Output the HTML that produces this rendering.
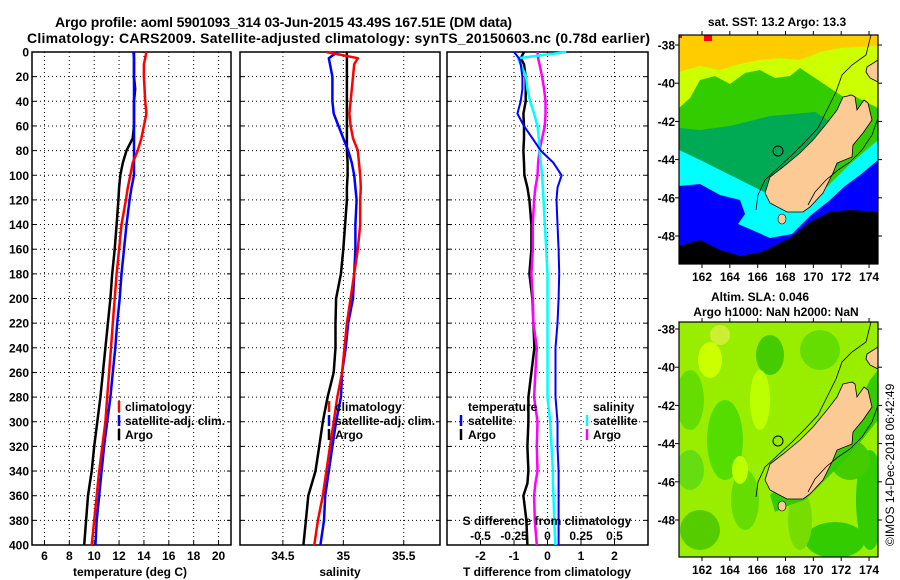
<!DOCTYPE html>
<html><head><meta charset="utf-8">
<style>
html,body{margin:0;padding:0;background:#fff;}
svg{display:block;font-family:"Liberation Sans",sans-serif;}
.t{font-weight:bold;font-size:12px;fill:#000;}
</style></head>
<body>
<svg id="fig" width="900" height="580" viewBox="0 0 900 580" xmlns="http://www.w3.org/2000/svg">
<rect width="900" height="580" fill="#fff"/>
<text x="55" y="27" font-size="14" font-weight="bold" textLength="457">Argo profile: aoml 5901093_314 03-Jun-2015 43.49S 167.51E (DM data)</text>
<text x="27" y="43" font-size="14" font-weight="bold" textLength="623">Climatology: CARS2009. Satellite-adjusted climatology: synTS_20150603.nc (0.78d earlier)</text>
<g id="charts"></g>
<g id="maps"></g>
</svg>
<script>
// ---- data ----
const depths = [0,5,10,20,30,40,50,60,70,80,90,100,110,120,140,160,180,200,220,240,260,280,300,320,340,350,360,380,400];
const tempClim = [14.2,14.1,14.0,14.0,14.05,14.1,14.2,14.0,13.8,13.5,13.1,12.9,12.7,12.55,12.2,12.0,11.8,11.65,11.5,11.35,11.2,11.05,10.9,10.65,10.4,10.3,10.2,10.0,9.8];
const tempSat = [13.15,13.2,13.2,13.2,13.2,13.2,13.2,13.2,13.2,13.2,13.2,13.2,13.0,12.85,12.6,12.4,12.2,12.05,11.85,11.7,11.5,11.3,11.05,10.8,10.6,10.5,10.4,10.2,10.1];
const tempArgo = [13.2,13.2,13.2,13.2,13.3,13.2,13.2,13.2,13.1,12.6,12.3,12.1,12.0,11.95,11.8,11.65,11.45,11.3,11.1,10.9,10.7,10.5,10.25,10.0,9.8,9.65,9.5,9.35,9.2];
const salClim = [34.86,35.12,35.09,35.08,35.07,35.06,35.05,35.06,35.08,35.12,35.13,35.14,35.145,35.14,35.14,35.12,35.09,35.06,35.03,35.01,34.99,34.95,34.92,34.89,34.86,34.845,34.83,34.79,34.76];
const salSat = [34.95,34.88,34.89,34.91,34.91,34.91,34.92,34.96,35.0,35.04,35.07,35.09,35.1,35.11,35.1,35.1,35.09,35.08,35.04,35.02,34.99,34.98,34.94,34.91,34.88,34.865,34.85,34.84,34.81];
const salArgo = [35.03,35.03,35.03,35.03,35.03,35.03,35.03,35.03,35.03,35.03,35.035,35.035,35.03,35.03,35.015,35.0,34.98,34.94,34.935,34.935,34.92,34.87,34.83,34.8,34.77,34.74,34.71,34.69,34.67];
const tDiffSat = [-1.0,-0.85,-0.8,-0.75,-0.75,-0.8,-0.9,-0.7,-0.45,-0.2,0.18,0.42,0.3,0.27,0.3,0.33,0.35,0.33,0.3,0.24,0.24,0.24,0.3,0.3,0.33,0.33,0.33,0.33,0.33];
const tDiffArgo = [-0.7,-0.8,-0.7,-0.65,-0.65,-0.65,-0.72,-0.7,-0.7,-0.72,-0.7,-0.69,-0.6,-0.54,-0.48,-0.48,-0.54,-0.45,-0.42,-0.39,-0.48,-0.57,-0.57,-0.6,-0.57,-0.6,-0.72,-0.63,-0.6];
const sDiffSat = [0.14,-0.22,-0.2,-0.16,-0.15,-0.13,-0.1,-0.075,-0.065,-0.06,-0.05,-0.04,-0.035,-0.03,-0.02,-0.01,0,0,0,0,0,0,0.02,0.03,0.04,0.04,0.045,0.05,0.06];
const sDiffArgo = [-0.075,-0.07,-0.06,-0.04,-0.025,-0.015,-0.015,-0.02,-0.04,-0.06,-0.07,-0.075,-0.09,-0.1,-0.11,-0.11,-0.12,-0.11,-0.105,-0.08,-0.09,-0.1,-0.075,-0.08,-0.075,-0.09,-0.1,-0.095,-0.08];
const depthTicks = [0,20,40,60,80,100,120,140,160,180,200,220,240,260,280,300,320,340,360,380,400];
const tempTicks = [6,8,10,12,14,16,18,20];
const salTicks = [34.5,35,35.5];
const tDiffTicks = [-2,-1,0,1,2];
const sDiffTicks = [-0.5,-0.25,0,0.25,0.5];
const sDiffTickLabels = ["-0.5","-0.25","0","0.25","0.5"];
const lonTicks = [162,164,166,168,170,172,174];
const latTicks = [-38,-40,-42,-44,-46,-48];

const NS = "http://www.w3.org/2000/svg";
function mk(tag, attrs, parent){const e=document.createElementNS(NS,tag);for(const k in attrs)e.setAttribute(k,attrs[k]);parent.appendChild(e);return e;}
function txt(x,y,s,anchor,parent,cls){const e=mk("text",{x:x,y:y,"text-anchor":anchor||"start",class:cls||"t"},parent);e.textContent=s;return e;}

const charts = document.getElementById("charts");
const TOP=52, BOT=545;
function yD(d){return TOP + d*(BOT-TOP)/400;}
function lin(d0,d1,r0,r1){return v=>r0+(v-d0)*(r1-r0)/(d1-d0);}
const xT = lin(5,21,32,231);
const xS = lin(34.145,35.8,240,440);
const xTd = lin(-3,3,447,648);
const xSd = lin(-0.75,0.75,447,648);

function panel(name,x0,x1,xticks,xscale,ylabels){
  const g = mk("g",{},charts);
  
  
  depthTicks.forEach(d=>{
    if(d>0&&d<400){const l=mk("line",{x1:x0,x2:x1,y1:yD(d),y2:yD(d),stroke:"#000","stroke-width":1,"stroke-dasharray":"1,3"},g);
    
    }
    mk("line",{x1:x0,x2:x0+4,y1:yD(d),y2:yD(d),stroke:"#000"},g);
    mk("line",{x1:x1-4,x2:x1,y1:yD(d),y2:yD(d),stroke:"#000"},g);
    if(ylabels){const t=txt(29,yD(d)+4.5,String(d),"end",g);
    
    }
  });
  xticks.forEach(v=>{
    const x=xscale(v);
    const l=mk("line",{x1:x,x2:x,y1:TOP,y2:BOT,stroke:"#000","stroke-width":1,"stroke-dasharray":"1,3"},g);
    
    
    mk("line",{x1:x,x2:x,y1:BOT-4,y2:BOT,stroke:"#000"},g);
  });
  const r=mk("rect",{x:x0,y:TOP,width:x1-x0,height:BOT-TOP,fill:"none",stroke:"#000","stroke-width":1.5},g);
  
  
  return g;
}
function series(g,vals,xscale,color,w,name){
  const pts=vals.map((v,i)=>xscale(v).toFixed(1)+","+yD(depths[i]).toFixed(1)).join(" ");
  const p=mk("polyline",{points:pts,fill:"none",stroke:color,"stroke-width":w,"stroke-linejoin":"round"},g);
  
  
}
function legendItem(g,xm,xt,y,color,label){
  if(color){const m=mk("line",{x1:xm,x2:xm,y1:y-10,y2:y+1,stroke:color,"stroke-width":2.5},g);
  
  }
  const t=txt(xt,y,label,"start",g);
  
  
}

// Panel 1 temperature
const g1 = panel("temperature-panel",32,231,tempTicks,xT,true);
series(g1,tempArgo,xT,"#000",2.5,"temp-argo-line");
series(g1,tempSat,xT,"#0000ff",2.5,"temp-satellite-line");
series(g1,tempClim,xT,"#ff0000",2.5,"temp-climatology-line");
tempTicks.forEach(v=>{const t=txt(xT(v),560,String(v),"middle",g1);

});
const xl1=txt(130,576,"temperature (deg C)","middle",g1);


legendItem(g1,119,125,411,"#ff0000","climatology");
legendItem(g1,119,125,425,"#0000ff","satellite-adj. clim.");
legendItem(g1,119,125,439,"#000","Argo");

// Panel 2 salinity
const g2 = panel("salinity-panel",240,440,salTicks,xS,false);
series(g2,salArgo,xS,"#000",2.5,"sal-argo-line");
series(g2,salSat,xS,"#0000ff",2.5,"sal-satellite-line");
series(g2,salClim,xS,"#ff0000",2.5,"sal-climatology-line");
salTicks.forEach(v=>{const t=txt(xS(v),560,String(v),"middle",g2);

});
const xl2=txt(340,576,"salinity","middle",g2);


legendItem(g2,329,335,411,"#ff0000","climatology");
legendItem(g2,329,335,425,"#0000ff","satellite-adj. clim.");
legendItem(g2,329,335,439,"#000","Argo");

// Panel 3 differences
const g3 = panel("difference-panel",447,648,tDiffTicks,xTd,false);
series(g3,tDiffArgo,xTd,"#000",2.5,"tdiff-argo-line");
series(g3,sDiffArgo,xSd,"#ff00ff",2.5,"sdiff-argo-line");
series(g3,sDiffSat,xSd,"#00ffff",2.5,"sdiff-satellite-line");
series(g3,tDiffSat,xTd,"#0000ff",2,"tdiff-satellite-line");
tDiffTicks.forEach(v=>{const t=txt(xTd(v),560,String(v),"middle",g3);

});
sDiffTicks.forEach((v,i)=>{const t=txt(xSd(v),540,sDiffTickLabels[i],"middle",g3);

});
const sdt=txt(547,525,"S difference from climatology","middle",g3);


const xl3=txt(547,576,"T difference from climatology","middle",g3);


legendItem(g3,0,468,411,null,"temperature");
legendItem(g3,461,468,425,"#0000ff","satellite");
legendItem(g3,461,468,439,"#000","Argo");
legendItem(g3,0,593,411,null,"salinity");
legendItem(g3,587,593,425,"#00ffff","satellite");
legendItem(g3,587,593,439,"#ff00ff","Argo");

// ---- maps ----
const maps = document.getElementById("maps");
const MX0=679, MX1=878;
function lonX(l){return 702+(l-162)*13.92;}
const land = [[852,95],[855,97],[857,110],[864,100],[868,103],[872,120],[863,133],[853,145],[852,157],[837,163],[833,173],[823,193],[810,207],[803,212],[787,212],[770,203],[765,193],[770,177],[783,167],[800,153],[813,140],[827,123],[837,110],[843,97]];
const northIsland = [[867,67],[878,60],[878,82],[870,78],[866,72]];
const contourW = [[871,35],[866,55],[852,65],[842,75],[836,92],[828,108],[818,128],[805,142],[792,155],[778,168],[765,180],[758,195],[756,210]];
const contourE = [[878,118],[872,135],[862,150],[850,162],[838,170],[826,180],[815,192],[808,205]];
function poly(pts,fill,parent,dy,stroke){return mk("polygon",{points:pts.map(p=>p[0]+","+(p[1]+dy)).join(" "),fill:fill,stroke:stroke||"none","stroke-width":0.8},parent);}
function pline(pts,parent,dy){return mk("polyline",{points:pts.map(p=>p[0]+","+(p[1]+dy)).join(" "),fill:"none",stroke:"#000","stroke-width":0.8},parent);}

function mapFrame(g,y0,y1,latY0,dy){
  const r=mk("rect",{x:MX0,y:y0,width:MX1-MX0,height:y1-y0,fill:"none",stroke:"#000","stroke-width":1.2},g);
  
  
  lonTicks.forEach(l=>{const x=lonX(l);
    mk("line",{x1:x,x2:x,y1:y0-4,y2:y0,stroke:"#000"},g);
    mk("line",{x1:x,x2:x,y1:y1,y2:y1+4,stroke:"#000"},g);
    const t=txt(x,y1+17,String(l),"middle",g);
    
    });
  latTicks.forEach(la=>{const y=latY0+(-38-la)*19.1;
    mk("line",{x1:MX0-4,x2:MX0,y1:y,y2:y,stroke:"#000"},g);
    mk("line",{x1:MX1,x2:MX1+4,y1:y,y2:y,stroke:"#000"},g);
    const t=txt(675,y+4.5,String(la),"end",g);
    
    });
}
// SST map
const gm1 = mk("g",{},maps);


mk("defs",{},gm1).innerHTML='<clipPath id="c1"><rect x="679" y="35" width="199" height="229"/></clipPath><clipPath id="c2"><rect x="679" y="322" width="199" height="235"/></clipPath>';
const s1 = mk("g",{"clip-path":"url(#c1)"},gm1);
mk("rect",{x:679,y:35,width:199,height:229,fill:"#ffcc00"},s1);
poly([[679,72],[700,66],[720,70],[740,64],[760,60],[780,58],[800,60],[820,52],[840,48],[878,46],[878,264],[679,264]],"#ccff00",s1,0);
poly([[679,108],[690,98],[700,80],[715,76],[730,84],[745,73],[760,70],[775,78],[790,76],[800,68],[815,78],[830,88],[845,98],[850,94],[878,108],[878,264],[679,264]],"#33cc00",s1,0);
poly([[679,128],[700,130],[730,126],[770,116],[815,112],[840,128],[850,150],[830,175],[800,200],[770,210],[750,200],[720,185],[700,165],[679,152]],"#00aa55",s1,0);
poly([[679,150],[700,160],[720,170],[740,180],[760,190],[790,204],[810,204],[830,184],[850,164],[878,140],[878,264],[679,264]],"#00ffff",s1,0);
poly([[679,186],[700,184],[720,195],[740,200],[745,214],[738,224],[752,230],[770,238],[792,234],[810,216],[830,200],[845,186],[860,175],[878,160],[878,264],[679,264]],"#0000ff",s1,0);
poly([[679,246],[700,240],[720,250],[740,256],[762,252],[790,238],[810,222],[830,212],[850,210],[878,212],[878,264],[679,264]],"#000",s1,0);
mk("rect",{x:679,y:35,width:3,height:3,fill:"#ff0000"},s1);
mk("rect",{x:704,y:35,width:8,height:6,fill:"#ff0000"},s1);
const l1=poly(land,"#fccb95",s1,0,"#000");


poly(northIsland,"#fccb95",s1,0,"#000");
mk("ellipse",{cx:782,cy:219,rx:4,ry:5,fill:"#fccb95",stroke:"#000","stroke-width":0.6},s1);
pline(contourW,s1,0);pline(contourE,s1,0);
const c1=mk("circle",{cx:778,cy:151,r:5,fill:"none",stroke:"#000","stroke-width":1},s1);


mapFrame(gm1,35,264,45,0);
const mt1=txt(777,26,"sat. SST: 13.2 Argo: 13.3","middle",gm1);



// SLA map
const gm2 = mk("g",{},maps);


const s2 = mk("g",{"clip-path":"url(#c2)"},gm2);
mk("rect",{x:679,y:322,width:199,height:235,fill:"#99ee00"},s2);
[[690,400,14,30,"#66dd00"],[725,440,18,40,"#55dd00"],[710,360,12,18,"#ccff00"],[720,335,10,10,"#ccee33"],[690,470,14,20,"#66dd11"],[770,355,14,20,"#44cc00"],[745,500,14,30,"#66dd00"],[700,530,20,20,"#55cc00"],[835,540,30,18,"#33cc00"],[870,500,14,50,"#33cc00"],[800,520,12,30,"#77dd00"],[760,400,10,30,"#bbff00"],[820,350,20,20,"#66dd00"],[740,470,8,14,"#bbff00"],[850,460,20,20,"#44cc00"]].forEach(e=>{mk("ellipse",{cx:e[0],cy:e[1],rx:e[2],ry:e[3],fill:e[4]},s2);});
poly([[870,380],[878,370],[878,420],[862,440],[850,455],[835,470],[820,485],[805,500],[790,505],[775,512],[770,495],[800,470],[840,440]],"#33cc00",s2,0);
poly(land,"#fccb95",s2,287,"#000");
poly(northIsland,"#fccb95",s2,287,"#000");
mk("ellipse",{cx:782,cy:506,rx:4,ry:5,fill:"#fccb95",stroke:"#000","stroke-width":0.6},s2);
pline(contourW,s2,287);pline(contourE,s2,287);
const c2=mk("circle",{cx:778,cy:441,r:5,fill:"none",stroke:"#000","stroke-width":1},s2);


mapFrame(gm2,322,557,329,0);
const mt2=txt(760,301,"Altim. SLA: 0.046","middle",gm2);


const mt3=txt(776,316,"Argo h1000: NaN h2000: NaN","middle",gm2);


const cr=mk("text",{x:0,y:0,"font-size":12,transform:"translate(894,546) rotate(-90)"},maps);
cr.textContent="©IMOS 14-Dec-2018 06:42:49";


</script>
</body></html>
